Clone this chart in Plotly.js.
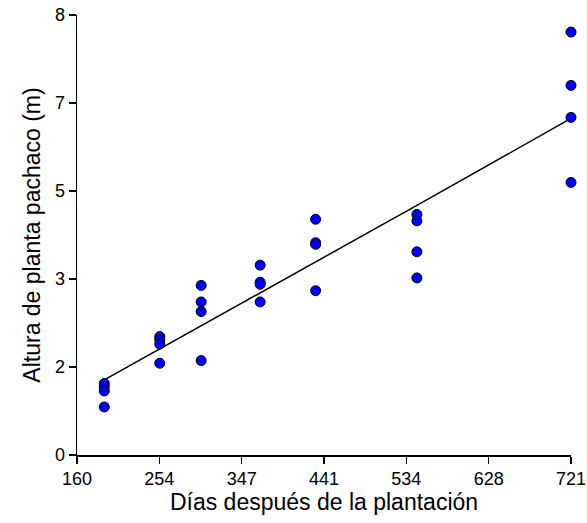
<!DOCTYPE html>
<html>
<head>
<meta charset="utf-8">
<script src="https://cdn.plot.ly/plotly-3.0.1.min.js"></script>
<style>html,body{margin:0;padding:0;background:#fff;}#chart{width:587px;height:523px;}</style>
</head>
<body>
<div id="chart"></div>
<script>
// Observations: days after planting and plant height
const days = [191,191,191,191, 254,254,254,254, 301,301,301,301, 368,368,368,368, 431,431,431,431, 546,546,546,546, 721,721,721,721];
const heights = [1.34,1.28,1.20,0.90, 2.22,2.16,2.08,1.72, 3.18,2.87,2.69,1.77, 3.56,3.24,3.20,2.87, 4.42,3.98,3.95,3.08, 4.51,4.39,3.81,3.32, 7.93,6.93,6.33,5.11];
// Fitted regression line
const fitX = [191, 254, 301, 368, 431, 546, 721];
const fitY = [1.41, 1.99, 2.42, 3.04, 3.62, 4.68, 6.31];
// Axis ticks
const xTickVals = [160, 253.5, 347, 440.5, 534, 627.5, 721];
const xTickText = ["160","254","347","441","534","628","721"];
const yTickVals = [0, 1.65, 3.3, 4.95, 6.6, 8.25];
const yTickText = ["0","2","3","5","7","8"];

const font = "Liberation Sans, Arial, sans-serif";
const traces = [
  {x: fitX, y: fitY, mode: "lines", line: {color: "#000", width: 1.5}, hoverinfo: "skip", cliponaxis: false},
  {x: days, y: heights, mode: "markers", cliponaxis: false,
   marker: {color: "#0000ff", size: 10, line: {color: "#000", width: 1}}}
];
const layout = {
  width: 587, height: 523,
  margin: {l: 77, r: 16, t: 15, b: 68},
  paper_bgcolor: "#fff", plot_bgcolor: "#fff",
  showlegend: false,
  font: {family: font, color: "#000", size: 18},
  xaxis: {
    range: [160, 721], tickvals: xTickVals, ticktext: xTickText,
    ticklabeloverflow: "allow",
    showgrid: false, zeroline: false, showline: true, linecolor: "#000", linewidth: 1.5,
    ticks: "outside", ticklen: 7, tickwidth: 1.5, tickcolor: "#000",
    tickfont: {family: font, size: 18, color: "#000"},
    title: {text: "Días después de la plantación", font: {family: font, size: 23, color: "#000"}, standoff: 5}
  },
  yaxis: {
    range: [0, 8.25], tickvals: yTickVals, ticktext: yTickText,
    ticklabeloverflow: "allow",
    showgrid: false, zeroline: false, showline: true, linecolor: "#000", linewidth: 1.5,
    ticks: "outside", ticklen: 7, tickwidth: 1.5, tickcolor: "#000",
    tickfont: {family: font, size: 18, color: "#000"},
    title: {text: "Altura de planta pachaco (m)", font: {family: font, size: 23, color: "#000"}, standoff: 8}
  }
};
Plotly.newPlot("chart", traces, layout, {displayModeBar: false, staticPlot: true});
</script>
</body>
</html>
